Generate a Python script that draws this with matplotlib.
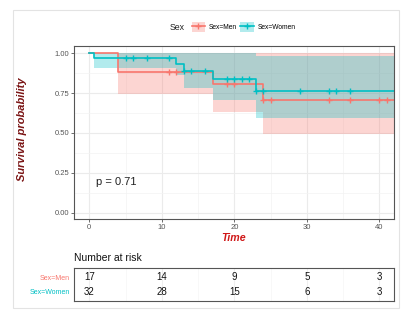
import matplotlib
matplotlib.use("Agg")
import matplotlib.pyplot as plt
import numpy as np
from matplotlib.patches import Patch, Rectangle
from matplotlib.lines import Line2D
from matplotlib.ticker import MultipleLocator

plt.rcParams['font.family'] = ['Liberation Sans', 'DejaVu Sans']

# data
men_t = [0, 4, 17, 24, 42]
men_s = [1.0, 0.882, 0.806, 0.705, 0.705]
men_lo = [1.0, 0.742, 0.633, 0.495, 0.495]
men_hi = [1.0, 1.0, 1.0, 1.0, 1.0]
men_cens = [11, 12, 19, 20, 24, 25, 33, 36, 40, 41]

women_t = [0, 0.7, 12, 13, 17, 23, 42]
women_s = [1.0, 0.969, 0.931, 0.891, 0.839, 0.763, 0.763]
women_lo = [1.0, 0.91, 0.864, 0.784, 0.707, 0.592, 0.592]
women_hi = [1.0, 1.0, 1.0, 1.0, 1.0, 0.985, 0.985]
women_cens = [5, 6, 8, 11, 13, 14, 16, 19, 20, 21, 22, 23, 24, 29, 33, 34, 36]

risk_times = [0, 10, 20, 30, 40]
risk_men = [17, 14, 9, 5, 3]
risk_women = [32, 28, 15, 6, 3]

red = '#F8766D'
teal = '#00BFC4'


def surv_at(times, surv, t):
    idx = np.searchsorted(times, t, side='right') - 1
    return np.asarray(surv)[idx]


W, H = 414, 324
fig = plt.figure(figsize=(W / 100, H / 100), dpi=100)

# light outer frame
fig.patches.append(Rectangle((13 / W, 1 - 308 / H), 386 / W, 298 / H,
                             transform=fig.transFigure, fill=False,
                             edgecolor='#E3E3E3', lw=0.8))

ax = fig.add_axes([74 / W, 1 - 219 / H, 320 / W, 173 / H])
ax.set_xlim(-2.1, 42)
ax.set_ylim(-0.04, 1.045)

for t, s, lo, hi, cens, c in [(men_t, men_s, men_lo, men_hi, men_cens, red),
                              (women_t, women_s, women_lo, women_hi, women_cens, teal)]:
    ax.fill_between(t, lo, hi, step='post', color=c, alpha=0.3, lw=0)
    ax.step(t, s, where='post', color=c, lw=1.2)
    ax.plot(cens, surv_at(t, s, cens), ls='none', marker='+', color=c,
            ms=5, mew=1.0)

ax.text(0.9, 0.195, 'p = 0.71', fontsize=8, va='center', ha='left', color='#222222')

ax.set_xticks(risk_times)
ax.set_yticks([0, 0.25, 0.5, 0.75, 1.0])
ax.set_yticklabels(['0.00', '0.25', '0.50', '0.75', '1.00'])
ax.xaxis.set_minor_locator(MultipleLocator(5))
ax.yaxis.set_minor_locator(MultipleLocator(0.125))
ax.grid(which='major', color='#EBEBEB', lw=0.8)
ax.grid(which='minor', color='#F3F3F3', lw=0.5)
ax.set_axisbelow(True)
ax.tick_params(which='major', labelsize=5.5, labelcolor='#555555', color='#555555',
               length=2, width=0.6, pad=1.5)
ax.tick_params(which='minor', length=0)
for sp in ax.spines.values():
    sp.set_color('#555555')
    sp.set_linewidth(0.8)

fig.text(22 / W, 1 - 129 / H, 'Survival probability', rotation=90, fontsize=8,
         fontweight='bold', fontstyle='italic', color='#7A1414', ha='center', va='center')
fig.text(234 / W, 1 - 238 / H, 'Time', fontsize=7.7, fontweight='bold',
         fontstyle='italic', color='#D01818', ha='center', va='center')

# legend
fig.text(170 / W, 1 - 27 / H, 'Sex', fontsize=6.3, ha='left', va='center', color='#222222')
handles = [(Patch(facecolor=c, alpha=0.3, lw=0),
            Line2D([], [], color=c, lw=1.2, marker='+', ms=5, mew=1.0))
           for c in (red, teal)]
fig.legend(handles, ['Sex=Men', 'Sex=Women'], loc='center left',
           bbox_to_anchor=(187 / W, 1 - 27 / H), ncol=2, frameon=False,
           fontsize=4.8, handlelength=2.0, handleheight=1.8,
           handletextpad=0.6, columnspacing=0.5, borderpad=0.2)

# risk table
fig.text(74 / W, 1 - 258 / H, 'Number at risk', fontsize=7.5, ha='left', va='center',
         color='#111111')
ax2 = fig.add_axes([74 / W, 1 - 301 / H, 320 / W, 33 / H])
ax2.set_xlim(ax.get_xlim())
ax2.set_ylim(2.6, 0.4)
for x, m, w in zip(risk_times, risk_men, risk_women):
    ax2.text(x, 1, str(m), fontsize=7, ha='center', va='center', color='#111111')
    ax2.text(x, 2, str(w), fontsize=7, ha='center', va='center', color='#111111')
ax2.set_xticks(risk_times)
ax2.xaxis.set_minor_locator(MultipleLocator(5))
ax2.set_xticklabels([])
ax2.set_yticks([1, 2])
ax2.set_yticklabels(['Sex=Men', 'Sex=Women'])
for lab, c in zip(ax2.get_yticklabels(), (red, teal)):
    lab.set_color(c)
ax2.tick_params(axis='y', labelsize=5, length=0, pad=3)
ax2.tick_params(axis='x', which='both', length=0)
ax2.grid(axis='x', which='major', color='#EFEFEF', lw=0.8)
ax2.grid(axis='x', which='minor', color='#F5F5F5', lw=0.5)
ax2.set_axisbelow(True)
for sp in ax2.spines.values():
    sp.set_color('#555555')
    sp.set_linewidth(0.8)

fig.savefig('out.png', dpi=100)
